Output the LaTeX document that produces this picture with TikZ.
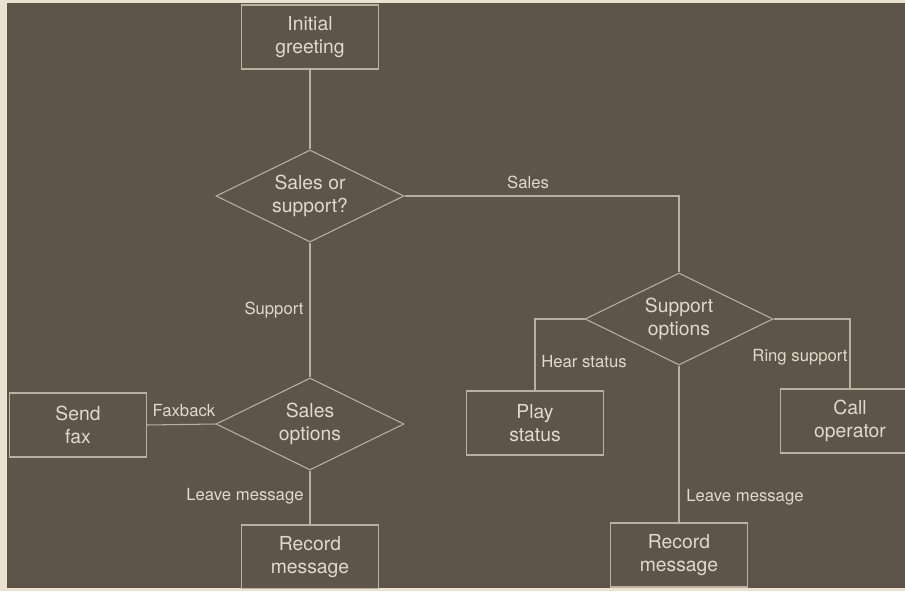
\documentclass[tikz,border=0pt]{standalone}
\usepackage{fontspec}
\setmainfont{TeX Gyre Heros}
\usetikzlibrary{shapes.geometric}

\definecolor{paper}{RGB}{236,226,210}
\definecolor{board}{RGB}{94,84,74}
\definecolor{chalk}{RGB}{186,176,160}
\definecolor{chalktext}{RGB}{226,217,202}

\begin{document}
\begin{tikzpicture}[x=0.02cm,y=-0.02cm,line width=0.6pt,
  box/.style={draw=chalk,rectangle,minimum width=2.74cm,minimum height=1.28cm,
    inner sep=0pt,align=center,text=chalktext,font=\fontsize{11}{13}\selectfont},
  choice/.style={draw=chalk,diamond,aspect=2.04,minimum width=3.76cm,minimum height=1.84cm,
    inner sep=0pt,align=center,text=chalktext,font=\fontsize{11}{13}\selectfont},
  tag/.style={text=chalktext,inner sep=1pt,font=\fontsize{9.5}{11}\selectfont}]
\useasboundingbox (0,0) rectangle (905,591);
\fill[paper] (0,0) rectangle (905,591);
\fill[board] (7,3) rectangle (905,588);

\begin{scope}
\clip (7,3) rectangle (905,588);

% boxes and decisions
\node[box] (greet) at (310,37) {Initial\\greeting};
\node[choice] (which) at (310,196) {Sales or\\support?};
\node[choice] (salesopt) at (310,424) {Sales\\options};
\node[box] (fax) at (78,425) {Send\\fax};
\node[box] (recleft) at (310,557) {Record\\message};
\node[choice] (supopt) at (679,319) {Support\\options};
\node[box] (play) at (535,423) {Play\\status};
\node[box, minimum width=2.8cm] (call) at (850,421) {Call\\operator};
\node[box] (recright) at (679,555) {Record\\message};

% connectors
\draw[chalk] (greet) -- (which);
\draw[chalk] (which.east) -| (supopt.north);
\draw[chalk] (which) -- (salesopt);
\draw[chalk] (salesopt.west) -- (fax.east);
\draw[chalk] (salesopt) -- (recleft);
\draw[chalk] (supopt.west) -| (play.north);
\draw[chalk] (supopt.east) -| (call.north);
\draw[chalk] (supopt) -- (recright);

% branch labels
\node[tag] (tsales) at (528,182) {Sales};
\node[tag] (tsupport) at (274,310) {Support};
\node[tag] (tfax) at (184,411) {Faxback};
\node[tag] (tleaveleft) at (245,496) {Leave message};
\node[tag] (thear) at (584,362) {Hear status};
\node[tag] (tring) at (800,357) {Ring support};
\node[tag] (tleaveright) at (745,497) {Leave message};
\end{scope}

\end{tikzpicture}
\end{document}
